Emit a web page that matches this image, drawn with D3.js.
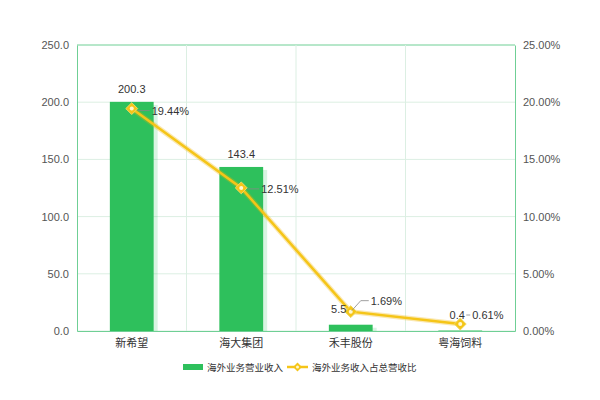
<!DOCTYPE html>
<html><head><meta charset="utf-8">
<script src="https://cdn.jsdelivr.net/npm/d3@7"></script>
<style>body{margin:0;background:#fff}svg{font-family:"Liberation Sans","Noto Sans CJK SC",sans-serif}</style>
</head><body><svg id="c" width="600" height="400"></svg>
<script>
const categories = ["新希望","海大集团","禾丰股份","粤海饲料"];
const revenue = [200.3, 143.4, 5.5, 0.4];
const ratio = [19.44, 12.51, 1.69, 0.61];
const leftTicks = [0,50,100,150,200,250];
const rightTicks = [0,5,10,15,20,25];
const seriesNames = ["海外业务营业收入","海外业务收入占总营收比"];

const svg = d3.select("#c");
const m = {l:77, r:515, t:45, b:331};
const x = d3.scaleBand().domain(categories).range([m.l, m.r]);
const y = d3.scaleLinear().domain([0,250]).range([m.b, m.t]);
const y2 = d3.scaleLinear().domain([0,25]).range([m.b, m.t]);
const grid = "#dcefe3", axisC = "#6fcf95", txt = "#333", tickC = "#555";
const FF = "'Liberation Sans','Noto Sans CJK SC',sans-serif";

// grid
svg.append("g").selectAll("line").data(leftTicks).join("line")
  .attr("x1", m.l).attr("x2", m.r).attr("y1", d=>y(d)).attr("y2", d=>y(d))
  .attr("stroke", d=> d===250 ? axisC : grid);
svg.append("g").selectAll("line").data(categories.slice(1)).join("line")
  .attr("x1", d=>x(d)).attr("x2", d=>x(d)).attr("y1", m.t).attr("y2", m.b)
  .attr("stroke", grid);

// axes
const la = svg.append("g").attr("transform",`translate(${m.l},0)`)
  .call(d3.axisLeft(y).tickValues(leftTicks).tickFormat(d3.format(".1f")).tickSize(0).tickPadding(8));
const ra = svg.append("g").attr("transform",`translate(${m.r},0)`)
  .call(d3.axisRight(y2).tickValues(rightTicks).tickFormat(d=>d.toFixed(2)+"%").tickSize(0).tickPadding(8));
const ba = svg.append("g").attr("transform",`translate(0,${m.b})`)
  .call(d3.axisBottom(x).tickSize(0).tickPadding(8));
[la,ra,ba].forEach(g=>{
  g.select(".domain").attr("stroke", axisC);
  g.selectAll("text").attr("fill", tickC).style("font-size","11px").style("font-family",FF);
});
ba.selectAll("text").attr("fill", txt);

// bars
const bw = x.bandwidth()*0.4;
svg.append("g").selectAll("rect.sh").data(revenue).join("rect")
  .attr("x", (d,i)=>x(categories[i])+x.bandwidth()/2-bw/2+4).attr("width", bw)
  .attr("y", d=>y(d)+3).attr("height", d=>m.b-y(d)-3).attr("fill","#2ec05c").attr("opacity",0.18);
svg.append("g").selectAll("rect.b").data(revenue).join("rect")
  .attr("x", (d,i)=>x(categories[i])+x.bandwidth()/2-bw/2).attr("width", bw)
  .attr("y", d=>y(d)).attr("height", d=>m.b-y(d)).attr("fill","#2ec05c");

// line
const cx = i => x(categories[i])+x.bandwidth()/2;
const lineGen = d3.line().x((d,i)=>cx(i)).y(d=>y2(d));
svg.append("path").datum(ratio).attr("d", lineGen)
  .attr("fill","none").attr("stroke","#f0b400").attr("stroke-width",5).attr("opacity",0.3);
svg.append("path").datum(ratio).attr("d", lineGen)
  .attr("fill","none").attr("stroke","#f5c518").attr("stroke-width",2.5);
const sym = d3.symbol().type(d3.symbolDiamond2).size(90);
svg.append("g").selectAll("path").data(ratio).join("path")
  .attr("d", sym).attr("transform",(d,i)=>`translate(${cx(i)},${y2(d)})`)
  .attr("fill","#f5c518").attr("stroke","#f0d860").attr("stroke-width",1);
svg.append("g").selectAll("circle").data(ratio).join("circle")
  .attr("cx",(d,i)=>cx(i)).attr("cy",d=>y2(d)).attr("r",2).attr("fill","#fff8d0");

// bar labels
const lblOff = [[0,-9],[0,-9],[-12,0],[-3,-12]];
svg.append("g").selectAll("text").data(revenue).join("text")
  .attr("x",(d,i)=>cx(i)+lblOff[i][0]).attr("y",(d,i)=>y(d)+lblOff[i][1]+(i===2?y2(ratio[2])-y(d)+1:0))
  .attr("text-anchor","middle").attr("fill",txt).style("font-size","11px").text(d=>d);

// ratio labels with leader lines
const rOff = [[20,2,false],[20,1,false],[20,-11,true],[12,-9,false]];
ratio.forEach((d,i)=>{
  const px = cx(i), py = y2(d);
  const [dx,dy,bend] = rOff[i];
  const g = svg.append("g");
  if (bend) {
    g.append("path").attr("d",`M${px+1},${py-1}L${px+10},${py+dy}L${px+dx-2},${py+dy}`)
      .attr("fill","none").attr("stroke","#888").attr("stroke-width",0.8);
  } else {
    g.append("line").attr("x1",px+(i===3?6:6)).attr("x2",px+dx-2).attr("y1",py+dy).attr("y2",py+dy)
      .attr("stroke","#888").attr("stroke-width",0.8);
  }
  g.append("text").attr("x",px+dx).attr("y",py+dy+4).attr("fill",txt)
    .style("font-size","11px").text(d.toFixed(2)+"%");
});

// legend
const lg = svg.append("g").attr("transform","translate(0,367)");
lg.append("rect").attr("x",183).attr("y",-3).attr("width",20).attr("height",6).attr("fill","#2ec05c");
lg.append("text").attr("x",207).attr("y",4).attr("fill",txt).style("font-size","9.5px").style("font-family","'Noto Sans CJK SC',sans-serif").text(seriesNames[0]);
lg.append("line").attr("x1",287).attr("x2",308).attr("y1",0).attr("y2",0).attr("stroke","#f5c518").attr("stroke-width",2.5);
lg.append("path").attr("d",d3.symbol().type(d3.symbolDiamond2).size(50)).attr("transform","translate(297.5,0)").attr("fill","#f5c518");
lg.append("circle").attr("cx",297.5).attr("cy",0).attr("r",1.5).attr("fill","#fff8d0");
lg.append("text").attr("x",312).attr("y",4).attr("fill",txt).style("font-size","9.5px").style("font-family","'Noto Sans CJK SC',sans-serif").text(seriesNames[1]);
</script></body></html>
